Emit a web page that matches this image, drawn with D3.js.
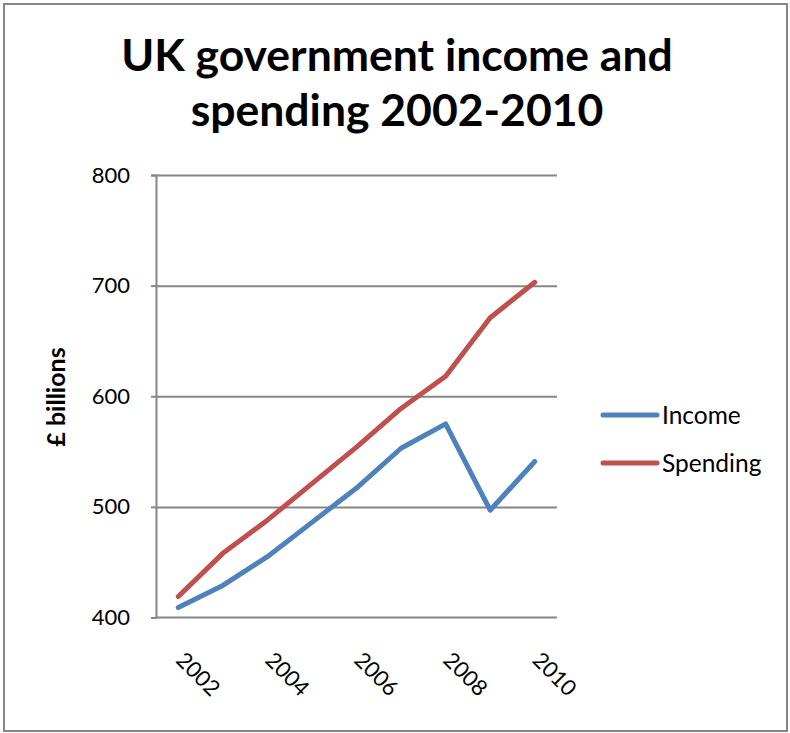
<!DOCTYPE html>
<html>
<head>
<meta charset="utf-8">
<script src="https://cdn.jsdelivr.net/npm/d3@7"></script>
<style>
  body { margin: 0; background: #fff; }
  text { font-family: Lato, "Open Sans", sans-serif; fill: #000; }
</style>
</head>
<body>
<svg id="chart" width="790" height="733"></svg>
<script>
// data
const years = [2002, 2003, 2004, 2005, 2006, 2007, 2008, 2009, 2010]
const income = [409, 429, 455, 486, 517, 553, 575, 497, 541]
const spending = [419, 458, 488, 521, 554, 589, 618, 671, 703]
const yTicks = [400, 500, 600, 700, 800]
const xLabels = [2002, 2004, 2006, 2008, 2010]
const seriesNames = ['Income', 'Spending']
const seriesColors = ['#4F81BD', '#C0504D']

const svg = d3.select('#chart')
const gridColor = '#868686'

// outer frame
svg.append('rect')
  .attr('x', 4).attr('y', 4)
  .attr('width', 783).attr('height', 727)
  .attr('fill', 'none')
  .attr('stroke', gridColor)
  .attr('stroke-width', 2)

// title
const title = svg.append('text')
  .attr('text-anchor', 'middle')
  .style('font-size', '44.5px')
  .style('font-weight', 'bold')
title.append('tspan').attr('x', 397).attr('y', 71).text('UK government income and')
title.append('tspan').attr('x', 397).attr('y', 126).text('spending 2002-2010')

const plotLeft = 156, plotRight = 557, plotTop = 175, plotBottom = 617.5

const x = d3.scalePoint().domain(years).range([plotLeft, plotRight]).padding(0.5)
const y = d3.scaleLinear().domain([400, 800]).range([plotBottom, plotTop])

// gridlines
svg.append('g')
  .attr('transform', `translate(${plotLeft},0)`)
  .call(d3.axisLeft(y).tickValues(yTicks.slice(1)).tickSize(-(plotRight - plotLeft)).tickFormat(''))
  .call(g => g.select('.domain').remove())
  .selectAll('line')
    .attr('stroke', gridColor)
    .attr('stroke-width', 2)

// y axis
const yAxis = svg.append('g')
  .attr('transform', `translate(${plotLeft},0)`)
  .call(d3.axisLeft(y).tickValues(yTicks).tickSize(5).tickPadding(21))
yAxis.select('.domain').attr('stroke', gridColor).attr('stroke-width', 2)
yAxis.selectAll('line').attr('stroke', gridColor).attr('stroke-width', 2)
yAxis.selectAll('text')
  .style('font-size', '22px')
  .style('font-family', 'Lato, sans-serif')
  .attr('fill', '#000')

// x axis
const xAxis = svg.append('g')
  .attr('transform', `translate(0,${plotBottom})`)
  .call(d3.axisBottom(x).tickValues(xLabels).tickSize(0).tickFormat(d3.format('d')))
xAxis.select('.domain').attr('d', `M${plotLeft},0H${plotRight}`).attr('stroke', gridColor).attr('stroke-width', 2)
xAxis.selectAll('text')
  .style('font-size', '22px')
  .style('font-family', 'Lato, sans-serif')
  .attr('fill', '#000')
  .attr('text-anchor', 'start')
  .attr('dy', null)
  .attr('y', 0)
  .attr('transform', 'translate(-4,44) rotate(45)')

// axis title
svg.append('text')
  .attr('transform', 'translate(65,397) rotate(-90)')
  .attr('text-anchor', 'middle')
  .style('font-size', '25px')
  .style('font-weight', 'bold')
  .text('£ billions')

// lines
const line = d3.line().x((d, i) => x(years[i])).y(d => y(d))
const series = [income, spending]
svg.selectAll('path.series')
  .data(series)
  .join('path')
    .attr('class', 'series')
    .attr('d', line)
    .attr('fill', 'none')
    .attr('stroke', (d, i) => seriesColors[i])
    .attr('stroke-width', 5)
    .attr('stroke-linejoin', 'round')
    .attr('stroke-linecap', 'round')

// legend
const legend = svg.append('g')
const legendY = [415, 463]
seriesNames.forEach(function(name, i){
  legend.append('line')
    .attr('x1', 603).attr('x2', 657)
    .attr('y1', legendY[i]).attr('y2', legendY[i])
    .attr('stroke', seriesColors[i])
    .attr('stroke-width', 5)
    .attr('stroke-linecap', 'round')
  legend.append('text')
    .attr('x', 662)
    .attr('y', legendY[i] + 9)
    .style('font-size', '24.5px')
    .text(name)
})
</script>
</body>
</html>
